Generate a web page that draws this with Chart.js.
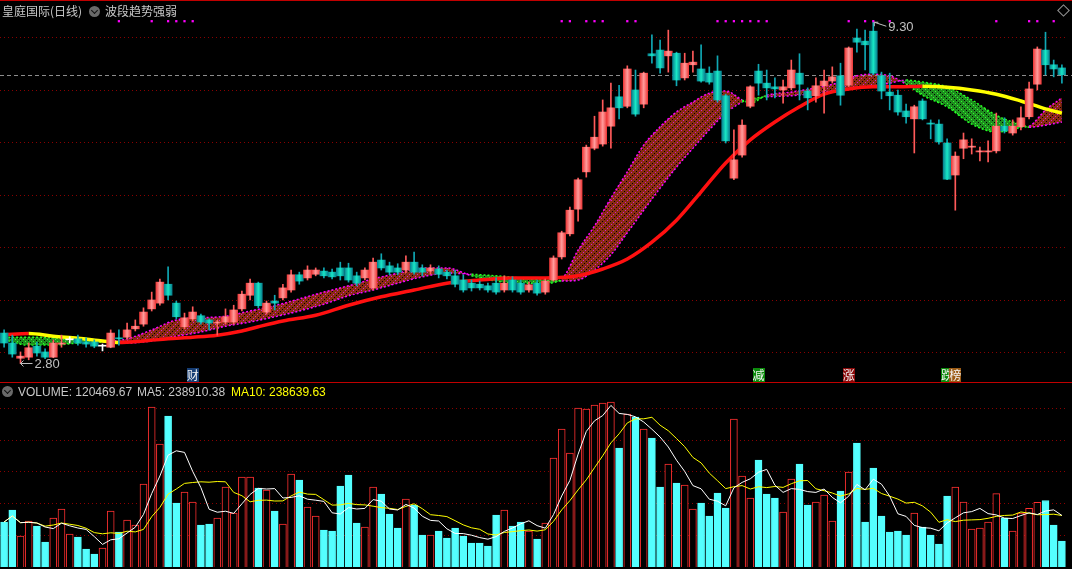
<!DOCTYPE html>
<html>
<head>
<meta charset="utf-8">
<title>皇庭国际(日线)</title>
<script src="https://cdn.jsdelivr.net/npm/chart.js@4.4.1/dist/chart.umd.min.js"></script>
<style>
  html, body { margin: 0; padding: 0; background: #000; }
  #box { position: relative; width: 1072px; height: 569px; background: #000; overflow: hidden; }
  canvas { position: absolute; left: 0; }
  #price { top: 0; }
  #vol { top: 383px; }
  .txt { position: absolute; white-space: nowrap; line-height: 14px; }
  .cn { font-family: "Noto Sans CJK SC", sans-serif; font-size: 12px; color: #c8c8c8; }
  .en { font-family: "Liberation Sans", Arial, sans-serif; font-size: 12px; color: #c8c8c8; }
  .icon { position: absolute; width: 11px; height: 11px; border-radius: 50%; background: #6a6a6a; }
  .icon::after { content: ""; position: absolute; left: 3px; top: 2px; width: 4px; height: 4px;
    border-right: 1.5px solid #111; border-bottom: 1.5px solid #111; transform: rotate(45deg); }
  .rule { position: absolute; left: 0; width: 1072px; height: 1px; background: #c00000; }
  #diamond { position: absolute; left: 1059px; top: 6px; width: 7px; height: 7px;
    border: 1px solid #9a9a9a; transform: rotate(45deg); }
</style>
</head>
<body>
<div id="box">
  <canvas id="price" width="1072" height="382"></canvas>
  <canvas id="vol" width="1072" height="186"></canvas>
  <div class="rule" style="top:0"></div>
  <div class="rule" style="top:382px"></div>
  <div class="txt cn" style="left:2px;top:4px">皇庭国际(日线)</div>
  <div class="icon" style="left:89px;top:6px"></div>
  <div class="txt cn" style="left:105px;top:4px">波段趋势强弱</div>
  <div id="diamond"></div>
  <div class="icon" style="left:2px;top:386px"></div>
  <div class="txt en" style="left:18px;top:385px">VOLUME: 120469.67</div>
  <div class="txt en" style="left:137px;top:385px">MA5: 238910.38</div>
  <div class="txt en" style="left:231px;top:385px;color:#ffff00">MA10: 238639.63</div>
</div>
<script>
// daily candles (price)
const open = [
  3.38,3.19,2.90,2.92,3.13,3.02,2.92,3.17,3.25,3.27,
  3.21,3.21,3.13,3.11,3.29,3.30,3.46,3.55,3.84,3.95,
  4.31,3.95,3.50,3.65,3.71,3.63,3.57,3.59,3.59,3.84,
  4.10,4.33,3.78,3.99,4.05,4.20,4.49,4.43,4.50,4.56,
  4.54,4.62,4.62,4.47,4.43,4.24,4.77,4.66,4.62,4.58,
  4.73,4.62,4.56,4.60,4.54,4.47,4.39,4.33,4.31,4.28,
  4.33,4.20,4.39,4.33,4.20,4.33,4.16,4.39,4.83,5.27,
  5.74,6.45,6.90,6.98,7.32,7.88,7.70,8.01,7.74,8.70,
  8.77,8.66,8.71,8.24,8.49,8.41,8.33,8.37,7.90,6.33,
  6.77,7.70,8.37,8.14,8.07,8.01,8.05,8.33,7.99,7.90,
  8.09,8.18,8.28,8.10,9.00,8.94,9.13,8.28,7.97,7.91,
  7.61,7.46,7.80,7.38,7.36,7.00,6.39,6.90,6.92,6.83,
  6.83,6.85,7.32,7.19,7.31,7.50,8.12,8.77,8.49,8.43
];
const high = [
  3.44,3.34,3.02,3.19,3.21,3.08,3.25,3.34,3.31,3.34,
  3.29,3.25,3.17,3.44,3.44,3.57,3.63,3.86,4.16,4.41,
  4.64,3.99,3.76,3.88,3.74,3.65,3.63,3.84,3.91,4.18,
  4.41,4.35,3.99,4.10,4.31,4.58,4.54,4.66,4.62,4.62,
  4.60,4.73,4.71,4.54,4.62,4.81,4.89,4.73,4.70,4.85,
  4.92,4.68,4.68,4.66,4.58,4.58,4.49,4.39,4.37,4.33,
  4.43,4.47,4.45,4.39,4.35,4.39,4.41,4.85,5.32,5.78,
  6.33,6.96,7.51,7.82,8.14,8.10,8.47,8.39,8.35,9.06,
  8.96,9.15,8.73,8.71,8.75,8.87,8.45,8.66,7.93,7.25,
  7.44,8.09,8.50,8.39,8.24,8.20,8.58,8.70,8.05,8.24,
  8.39,8.45,8.52,8.83,9.17,9.15,9.30,8.35,8.33,8.01,
  7.74,7.72,7.84,7.44,7.44,7.08,6.83,7.19,7.08,6.92,
  7.04,7.57,7.48,7.44,7.69,8.16,8.83,9.11,8.58,8.49
];
const low = [
  3.11,2.92,2.80,2.87,2.94,2.89,2.91,3.11,3.19,3.15,
  3.11,3.10,3.04,3.10,3.15,3.27,3.42,3.51,3.80,3.91,
  4.01,3.65,3.46,3.61,3.55,3.44,3.34,3.55,3.55,3.80,
  4.01,3.86,3.74,3.82,4.01,4.16,4.31,4.39,4.47,4.43,
  4.41,4.39,4.35,4.28,4.39,4.20,4.58,4.49,4.49,4.52,
  4.50,4.47,4.50,4.43,4.41,4.26,4.16,4.18,4.20,4.16,
  4.12,4.16,4.16,4.12,4.16,4.10,4.12,4.37,4.79,5.23,
  5.51,6.35,6.87,6.94,6.90,7.46,7.67,7.51,7.67,8.52,
  8.33,8.35,8.09,8.20,8.35,8.16,8.12,7.78,7.00,6.30,
  6.73,7.67,7.91,7.82,7.86,7.76,8.01,7.82,7.63,7.78,
  7.57,8.14,7.72,8.07,8.73,8.39,8.30,7.84,7.63,7.53,
  7.38,6.81,7.44,7.08,6.98,6.30,5.72,6.70,6.79,6.66,
  6.64,6.81,7.19,7.15,7.25,7.46,8.01,8.30,8.26,8.14
];
const close = [
  3.19,2.98,2.94,3.10,3.00,2.92,3.19,3.19,3.25,3.19,
  3.17,3.13,3.13,3.38,3.27,3.44,3.51,3.78,4.01,4.35,
  4.10,3.69,3.67,3.78,3.59,3.57,3.59,3.69,3.82,4.12,
  4.33,3.90,3.95,3.95,4.24,4.49,4.37,4.58,4.58,4.47,
  4.45,4.47,4.39,4.33,4.58,4.73,4.62,4.54,4.54,4.73,
  4.54,4.54,4.62,4.50,4.47,4.31,4.20,4.24,4.24,4.20,
  4.16,4.33,4.20,4.16,4.30,4.14,4.37,4.81,5.29,5.72,
  6.30,6.92,7.11,7.59,7.67,7.67,8.41,7.55,8.33,8.66,
  8.43,8.75,8.20,8.52,8.54,8.18,8.16,7.82,7.04,6.68,
  7.34,8.07,8.14,8.05,8.03,8.07,8.39,8.12,7.86,8.09,
  8.18,8.26,7.91,8.81,8.92,8.87,8.33,7.99,7.90,7.59,
  7.50,7.69,7.46,7.36,7.02,6.31,6.75,7.06,6.94,6.85,
  6.85,7.32,7.23,7.32,7.48,8.03,8.79,8.49,8.41,8.30
];
const volume = [
  208500,264100,143600,213100,190000,115800,227000,268700,152900,139000,
  83400,60200,88000,259400,162200,217800,194600,384500,741300,569900,
  699600,296500,347500,301100,194600,199200,227000,370600,250200,417000,
  417000,366000,356700,259400,199200,430900,403100,278000,236300,171400,
  166800,375300,426200,203900,185300,370600,338200,245500,180700,315000,
  287200,148300,148300,166800,134400,180700,143600,111200,111200,97300,
  240900,264100,190000,208500,166800,129700,203900,505000,639400,528200,
  736600,732000,750500,759800,764400,551300,708800,695000,639400,597700,
  370600,477200,389200,379900,268700,296500,236300,342800,273300,685700,
  421600,319700,495700,338200,319700,254800,407700,477200,287200,301100,
  333600,213100,352100,440100,574500,208500,458700,236300,162200,166800,
  148300,250200,185300,148300,106600,328900,370600,301100,176100,180700,
  208500,340000,227000,166800,249544.4,272000,300000,308000,194082.23,120469.67
];

// long trend line (red rising / yellow falling)
const trendIdx = [0,3,6,9,12,14,17,20,23,26,29,31,34,38,42,46,50,54,58,62,
  66,70,73,76,79,82,85,88,91,94,97,100,103,106,109,112,115,118,121,124,127,129];
const trendVal = [3.35,3.37,3.32,3.28,3.23,3.20,3.23,3.27,3.30,3.34,3.42,3.50,3.61,3.72,3.91,4.07,4.20,4.33,4.39,4.43,
  4.43,4.47,4.60,4.79,5.11,5.53,6.07,6.62,7.06,7.40,7.69,7.93,8.03,8.07,8.07,8.08,8.06,8.01,7.93,7.80,7.65,7.57];

// 波段趋势强弱 ribbon: fast and slow edges
const bandIdx = [0,3,6,9,12,15,18,21,24,27,30,33,36,39,42,45,48,51,54,57,60,63,66,68,70,72,74,76,78,80,
  82,84,86,88,90,91,93,96,99,102,104,106,108,110,112,115,118,121,123,124,125,127,129];
const bandFast = [3.25,3.15,3.15,3.19,3.21,3.27,3.44,3.63,3.67,3.70,3.80,3.90,4.03,4.16,4.28,4.41,4.52,4.62,4.62,4.47,
  4.37,4.33,4.33,4.41,4.96,5.42,5.95,6.45,6.96,7.31,7.59,7.78,7.95,7.99,7.82,7.76,7.91,7.97,8.05,8.16,
  8.28,8.31,8.28,8.12,7.91,7.69,7.36,7.21,7.25,7.30,7.32,7.63,7.86];
const bandSlow = [3.30,3.30,3.29,3.25,3.23,3.19,3.23,3.32,3.40,3.51,3.59,3.69,3.80,3.93,4.09,4.20,4.33,4.45,4.52,4.50,
  4.47,4.43,4.39,4.37,4.39,4.58,4.87,5.29,5.72,6.14,6.54,6.90,7.25,7.57,7.78,7.84,7.88,7.90,7.95,8.01,
  8.05,8.09,8.14,8.20,8.16,8.07,7.82,7.53,7.40,7.36,7.30,7.34,7.40];

const signalDays = [14,18,20,21,22,23,68,69,71,72,73,76,77,87,88,89,90,91,92,93,103,105,106,108,121,125,126,128];
const markerText = ['财','减','涨','跌','榜'];
const markerDay = [23,92,103,115,116];

const priceGrid = [3,4,5,6,7,8,9];
const volGrid = [147000,294000,441000,588000,735000];

const days = open.map((_, i) => i);
const isUp = i => close[i] >= open[i];
const SIGNAL_Y = 9.32;

function bodyFill(c) {
  const i = c.dataIndex;
  if (i === undefined) return '#ff5050';
  if (open[i] === close[i]) return '#ffffff';
  const up = isUp(i);
  const x = c.chart.scales.x ? c.chart.scales.x.getPixelForValue(i) : NaN;
  if (!isFinite(x)) return up ? '#f85858' : '#10b8b0';
  const g = c.chart.ctx.createLinearGradient(x - 4, 0, x + 4, 0);
  const s = up ? ['#ee3a3a', '#ff9c9c', '#ee3a3a'] : ['#08808f', '#18e8c6', '#08808f'];
  g.addColorStop(0, s[0]); g.addColorStop(0.5, s[1]); g.addColorStop(1, s[2]);
  return g;
}
function wickColor(c) {
  const i = c.dataIndex;
  if (i === undefined) return '#ff5050';
  if (open[i] === close[i]) return '#ffffff';
  return isUp(i) ? '#ff5a5a' : '#10a8b4';
}

function makePattern(bg, dot, rising) {
  const t = document.createElement('canvas');
  t.width = 8; t.height = 8;
  const g = t.getContext('2d');
  g.fillStyle = bg; g.fillRect(0, 0, 8, 8);
  g.fillStyle = '#000';
  for (let k = 0; k < 8; k += 2) g.fillRect(k, rising ? 7 - k : k, 1, 1);
  g.fillStyle = dot;
  for (let k = 1; k < 8; k += 2) g.fillRect(k, rising ? (11 - k) % 8 : (k + 4) % 8, 1, 1);
  return g.createPattern(t, 'repeat');
}
const brownFill = makePattern('#8a2a12', '#d020d0', true);
const greenFill = makePattern('#1e8e1e', '#33ff33', false);

function edgeColor(c) {
  const k = c.p0DataIndex;
  return bandFast[k] + bandFast[k + 1] >= bandSlow[k] + bandSlow[k + 1] ? '#ff00ff' : '#22ff22';
}

const priceMarks = {
  id: 'priceMarks',
  beforeDatasetsDraw(chart) {
    const { ctx, scales: { y } } = chart;
    const py = Math.round(y.getPixelForValue(close[close.length - 1])) + 0.5;
    ctx.save();
    ctx.strokeStyle = '#8c8c8c';
    ctx.lineWidth = 1;
    ctx.setLineDash([4, 3]);
    ctx.beginPath(); ctx.moveTo(0, py); ctx.lineTo(chart.width, py); ctx.stroke();
    ctx.restore();
  },
  afterDatasetsDraw(chart) {
    const { ctx, scales: { x, y } } = chart;
    ctx.save();
    ctx.strokeStyle = '#c0c0c0';
    ctx.fillStyle = '#c0c0c0';
    ctx.lineWidth = 1;
    ctx.font = '13px "Liberation Sans", Arial, sans-serif';
    ctx.textBaseline = 'middle';
    // lowest low
    const li = low.indexOf(Math.min(...low));
    let px = x.getPixelForValue(li), py = y.getPixelForValue(low[li]);
    ctx.beginPath();
    ctx.moveTo(px, py); ctx.lineTo(px + 12, py);
    ctx.moveTo(px, py); ctx.lineTo(px + 3, py - 3);
    ctx.moveTo(px, py); ctx.lineTo(px + 3, py + 3);
    ctx.stroke();
    ctx.fillText(low[li].toFixed(2), px + 14, py + 1);
    // highest high
    const hi = high.indexOf(Math.max(...high));
    px = x.getPixelForValue(hi); py = y.getPixelForValue(high[hi]);
    ctx.beginPath();
    ctx.moveTo(px + 1, py); ctx.lineTo(px + 13, py + 4);
    ctx.moveTo(px + 1, py); ctx.lineTo(px + 1, py + 4);
    ctx.moveTo(px + 1, py); ctx.lineTo(px + 5, py);
    ctx.stroke();
    ctx.fillText(high[hi].toFixed(2), px + 15, py + 5);
    // event markers
    const bgs = ['#163d73', '#0b8a0b', '#8a0a0a', '#0b8a0b', '#9a5a14'];
    ctx.font = '12px "Noto Sans CJK SC", sans-serif';
    ctx.textAlign = 'center';
    markerDay.forEach((d, k) => {
      const cx = x.getPixelForValue(d);
      ctx.fillStyle = bgs[k];
      ctx.fillRect(Math.round(cx - 6), 368, 12, 14);
      ctx.fillStyle = '#f4f4f4';
      ctx.fillText(markerText[k], cx, 375);
    });
    ctx.restore();
  }
};

new Chart(document.getElementById('price'), {
  type: 'bar',
  data: {
    labels: days,
    datasets: [
      {
        type: 'line', data: signalDays.map(d => ({ x: d, y: SIGNAL_Y })), showLine: false,
        pointStyle: 'rect', pointRadius: 1.6, pointBackgroundColor: '#ff00ff', pointBorderWidth: 0, order: 0
      },
      {
        data: days.map(i => [open[i], close[i]]), backgroundColor: bodyFill,
        barThickness: 8, minBarLength: 1, grouped: false, order: 1
      },
      {
        data: days.map(i => [low[i], high[i]]), backgroundColor: wickColor,
        barThickness: 1, grouped: false, order: 2
      },
      {
        type: 'line', data: trendIdx.map((d, k) => ({ x: d, y: trendVal[k] })),
        borderWidth: 3.5, pointRadius: 0, cubicInterpolationMode: 'monotone',
        segment: { borderColor: c => c.p1.parsed.y >= c.p0.parsed.y ? '#ff1010' : '#ffff00' },
        order: 3
      },
      {
        type: 'line', data: bandIdx.map((d, k) => ({ x: d, y: bandFast[k] })),
        borderWidth: 1.5, borderDash: [2, 2], pointRadius: 0, cubicInterpolationMode: 'monotone',
        segment: { borderColor: edgeColor },
        fill: { target: 5, above: brownFill, below: greenFill },
        order: 4
      },
      {
        type: 'line', data: bandIdx.map((d, k) => ({ x: d, y: bandSlow[k] })),
        borderWidth: 1.5, borderDash: [2, 2], pointRadius: 0, cubicInterpolationMode: 'monotone',
        segment: { borderColor: edgeColor },
        order: 5
      }
    ]
  },
  options: {
    responsive: false,
    animation: false,
    events: [],
    layout: { autoPadding: false, padding: { left: 0, right: 6, top: 0, bottom: 0 } },
    plugins: { legend: { display: false }, tooltip: { enabled: false }, filler: { drawTime: 'beforeDatasetsDraw' } },
    scales: {
      x: { type: 'category', offset: true, display: false },
      y: {
        type: 'linear', min: 2.4476, max: 9.7238,
        afterBuildTicks: s => { s.ticks = priceGrid.map(v => ({ value: v })); },
        ticks: { display: false },
        grid: { color: '#8a0000', drawTicks: false },
        border: { display: false, dash: [1, 3] }
      }
    }
  },
  plugins: [priceMarks]
});

function movingAvg(arr, n) {
  return arr.map((_, i) => {
    const s = arr.slice(Math.max(0, i - n + 1), i + 1);
    return s.reduce((a, b) => a + b, 0) / s.length;
  });
}

new Chart(document.getElementById('vol'), {
  type: 'bar',
  data: {
    labels: days,
    datasets: [
      {
        type: 'line', data: movingAvg(volume, 5), borderColor: '#ffffff', borderWidth: 1,
        pointRadius: 0, order: 0
      },
      {
        type: 'line', data: movingAvg(volume, 10), borderColor: '#ffff00', borderWidth: 1,
        pointRadius: 0, order: 1
      },
      {
        data: volume,
        backgroundColor: c => isUp(c.dataIndex) ? '#000000' : '#54ffff',
        borderColor: c => isUp(c.dataIndex) ? '#ff3030' : '#54ffff',
        borderWidth: 1, barThickness: 7, order: 2
      }
    ]
  },
  options: {
    responsive: false,
    animation: false,
    events: [],
    layout: { autoPadding: false, padding: { left: 0, right: 6, top: 0, bottom: 2 } },
    plugins: { legend: { display: false }, tooltip: { enabled: false } },
    scales: {
      x: { type: 'category', offset: true, display: false },
      y: {
        type: 'linear', min: 0, max: 852500,
        afterBuildTicks: s => { s.ticks = volGrid.map(v => ({ value: v })); },
        ticks: { display: false },
        grid: { color: '#8a0000', drawTicks: false },
        border: { display: false, dash: [1, 3] }
      }
    }
  }
});
</script>
</body>
</html>
